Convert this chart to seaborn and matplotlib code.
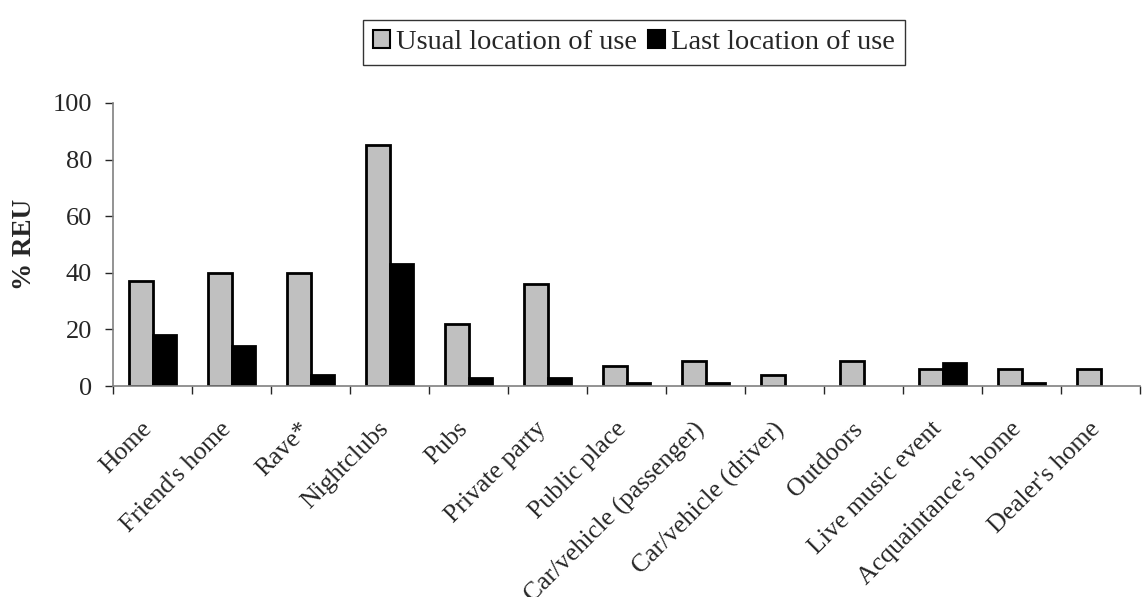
import pandas as pd
import numpy as np
import matplotlib
matplotlib.use('Agg')
import matplotlib.pyplot as plt
import matplotlib.transforms as mtransforms
import seaborn as sns
from matplotlib.patches import Patch

locations = ["Home", "Friend's home", "Rave*", "Nightclubs", "Pubs", "Private party",
             "Public place", "Car/vehicle (passenger)", "Car/vehicle (driver)", "Outdoors",
             "Live music event", "Acquaintance's home", "Dealer's home"]
usual = [37, 40, 40, 85, 22, 36, 7, 9, 4, 9, 6, 6, 6]
last = [18, 14, 4, 43, 3, 3, 1, 1, 0, 0, 8, 1, 0]
series = ["Usual location of use", "Last location of use"]

df = pd.DataFrame({
    'location': locations * 2,
    'value': usual + last,
    'series': [series[0]] * len(locations) + [series[1]] * len(locations),
})

sns.set_style('white')
plt.rcParams['font.family'] = ['Liberation Serif', 'DejaVu Serif']

fig = plt.figure(figsize=(11.46, 5.97), dpi=100)
ax = fig.add_axes([0.0986, 0.3534, 0.8964, 0.4741])

sns.barplot(data=df, x='location', y='value', hue='series',
            palette=['#c0c0c0', 'black'], edgecolor='black', linewidth=2,
            width=0.6, ax=ax, legend=False)

# zero-valued bars are not drawn in the original
for p in ax.patches:
    if p.get_height() == 0:
        p.set_visible(False)

ax.set_ylim(0, 100)
ax.set_xlim(-0.5, len(locations) - 0.5)
ax.set_yticks([0, 20, 40, 60, 80, 100])
ax.tick_params(axis='y', labelsize=19, length=6, width=1, direction='out', left=True, pad=9)
ax.set_xticks(range(len(locations)))
ax.set_xticklabels(locations, rotation=45, ha='right', rotation_mode='anchor', fontsize=18.5)
ax.tick_params(axis='x', which='major', length=0, pad=10)
ax.set_xticks(np.arange(-0.5, len(locations), 1), minor=True)
ax.tick_params(axis='x', which='minor', length=6, width=1, direction='out', bottom=True)
ax.set_xlabel('')
ax.set_ylabel('% REU', fontsize=19.5, fontweight='bold', labelpad=11)

offset = mtransforms.ScaledTranslation(-12 / 100, -18 / 100, fig.dpi_scale_trans)
for lbl in ax.get_xticklabels():
    lbl.set_transform(lbl.get_transform() + offset)

for side in ['top', 'right']:
    ax.spines[side].set_visible(False)
for side in ['left', 'bottom']:
    ax.spines[side].set_color('#808080')
    ax.spines[side].set_linewidth(1.2)

handles = [Patch(facecolor='#c0c0c0', edgecolor='black', linewidth=1.5),
           Patch(facecolor='black', edgecolor='black', linewidth=1.5)]
leg = fig.legend(handles, series, loc='upper center', bbox_to_anchor=(0.553, 0.966),
                 ncol=2, frameon=True, fancybox=False, edgecolor='black', fontsize=20.5,
                 handlelength=0.6, handleheight=0.6, handletextpad=0.2,
                 columnspacing=0.4, borderpad=0.35, borderaxespad=0)
leg.get_frame().set_linewidth(1)

fig.savefig('out.png', dpi=100)
